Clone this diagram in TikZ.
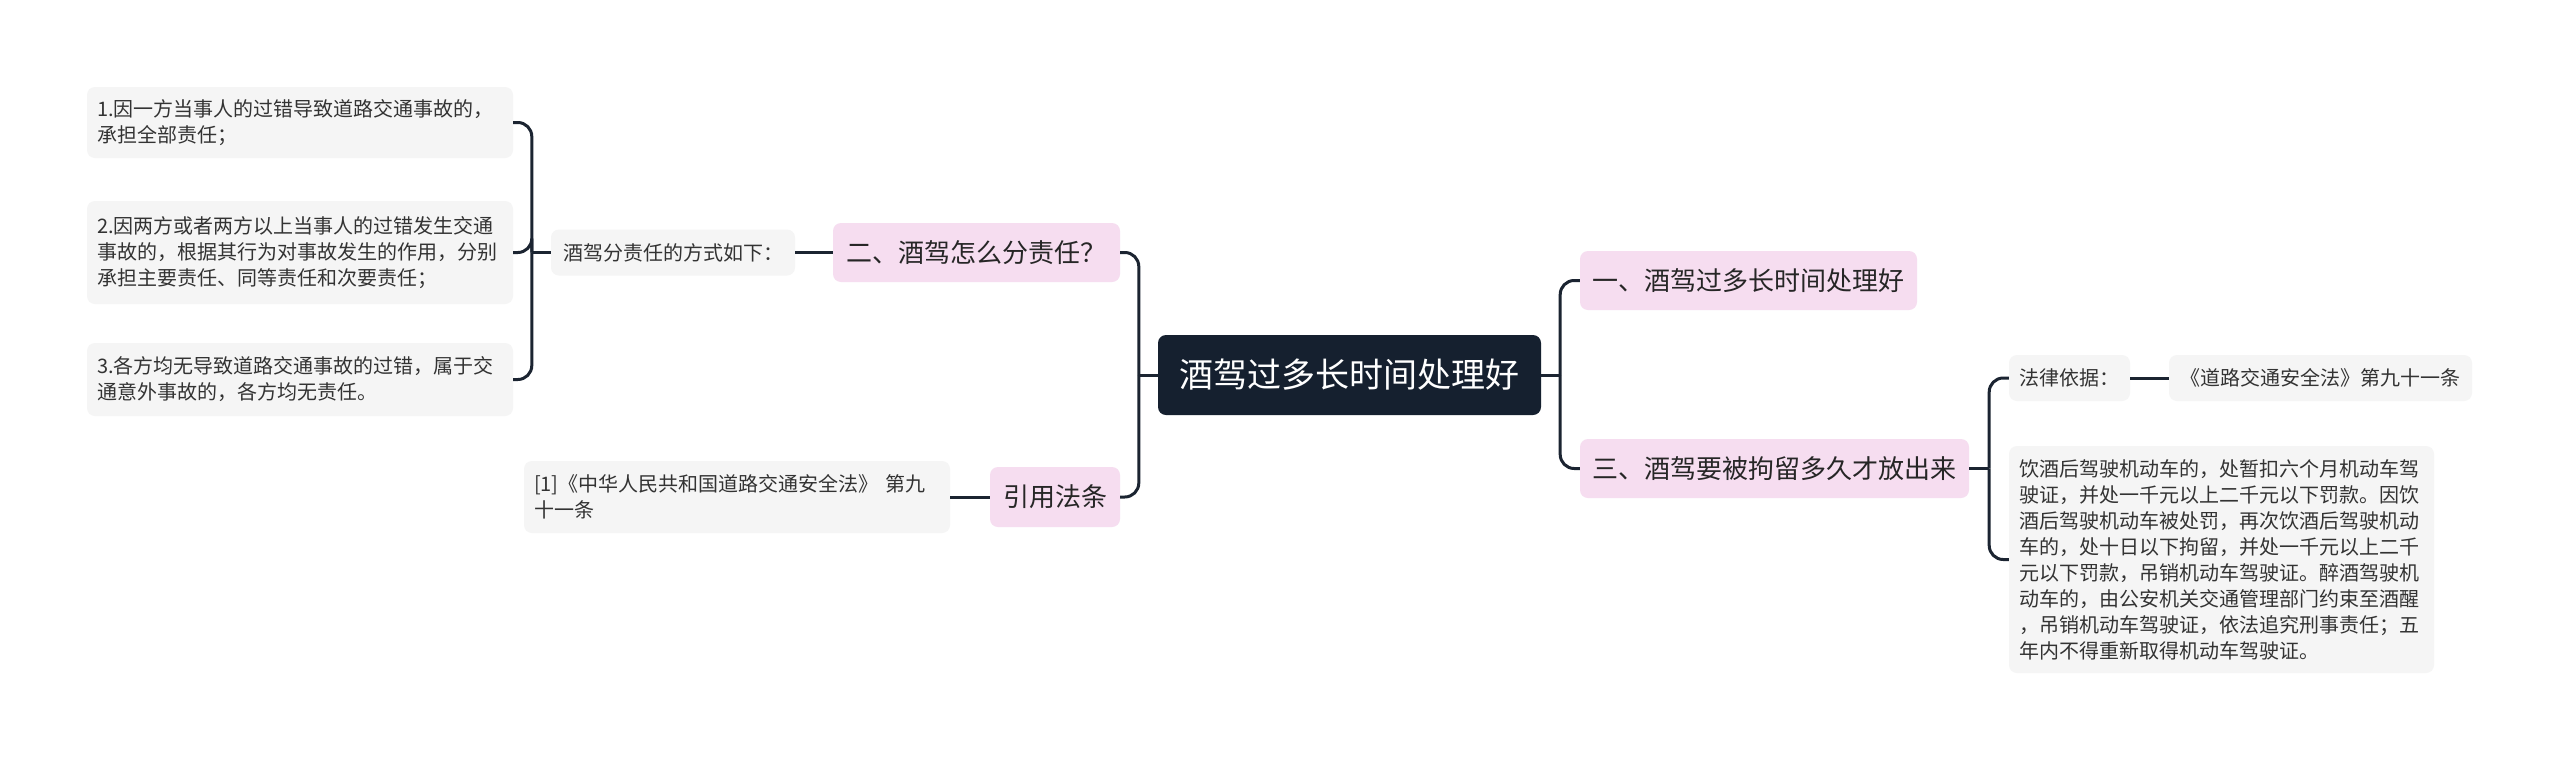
\documentclass[tikz,border=0pt]{standalone}
\usepackage{fontspec}
\setmainfont{Noto Sans CJK SC}
\usetikzlibrary{calc}
\definecolor{conn}{HTML}{1B2431}
\definecolor{pinkbg}{HTML}{F6DDF0}
\definecolor{leafbg}{HTML}{F5F5F5}
\definecolor{rootbg}{HTML}{15202F}
\definecolor{txt}{HTML}{333333}
\definecolor{cattxt}{HTML}{262626}
\begin{document}
\begin{tikzpicture}[x=1pt,y=-1pt,
  box/.style={rounded corners=8pt, inner sep=0pt, align=center},
  rootbox/.style={box, fill=rootbg, text=white, font=\fontsize{34}{40}\selectfont, minimum height=80pt},
  catbox/.style={box, fill=pinkbg, text=cattxt, font=\fontsize{26}{32}\selectfont, minimum height=59pt},
  leafbox/.style={box, fill=leafbg, text=txt, font=\fontsize{20}{26}\selectfont},
  wrapbox/.style={leafbox, align=left, inner xsep=10pt},
  link/.style={draw=conn, line width=3pt},
  elbow/.style={link, rounded corners=14pt}]
\fill[white] (0,0) rectangle (2560,761);
\useasboundingbox (0,0) rectangle (2560,761);

% nodes
\node[rootbox, minimum width=383pt] (root) at (1349.5,375) {酒驾过多长时间处理好};
\node[catbox, minimum width=287pt] (two) at (976.5,252.5) {二、酒驾怎么分责任？};
\node[catbox, minimum width=130pt, minimum height=60pt] (cite) at (1055,497) {引用法条};
\node[catbox, minimum width=337pt] (one) at (1748.5,280.5) {一、酒驾过多长时间处理好};
\node[catbox, minimum width=389pt] (three) at (1774.5,468.5) {三、酒驾要被拘留多久才放出来};

\node[leafbox, minimum width=244pt, minimum height=46pt] (way) at (673,252.5) {酒驾分责任的方式如下：};
\node[wrapbox, text width=406pt, minimum height=71pt] (l1) at (300,122.5)
  {1.因一方当事人的过错导致道路交通事故的，\\承担全部责任；};
\node[wrapbox, text width=406pt, minimum height=103pt] (l2) at (300,252.5)
  {2.因两方或者两方以上当事人的过错发生交通\\事故的，根据其行为对事故发生的作用，分别\\承担主要责任、同等责任和次要责任；};
\node[wrapbox, text width=406pt, minimum height=73pt] (l3) at (300,379.5)
  {3.各方均无导致道路交通事故的过错，属于交\\通意外事故的，各方均无责任。};
\node[wrapbox, text width=406pt, minimum height=72pt] (ref) at (737,497)
  {[1]《中华人民共和国道路交通安全法》 第九\\十一条};

\node[leafbox, minimum width=121pt, minimum height=46pt] (basis) at (2069.5,378) {法律依据：};
\node[leafbox, minimum width=303pt, minimum height=46pt] (law) at (2320.5,378) {《道路交通安全法》第九十一条};
\node[wrapbox, text width=405pt, minimum height=227pt] (detail) at (2221.5,559.5)
  {饮酒后驾驶机动车的，处暂扣六个月机动车驾\\驶证，并处一千元以上二千元以下罚款。因饮\\酒后驾驶机动车被处罚，再次饮酒后驾驶机动\\车的，处十日以下拘留，并处一千元以上二千\\元以下罚款，吊销机动车驾驶证。醉酒驾驶机\\动车的，由公安机关交通管理部门约束至酒醒\\，吊销机动车驾驶证，依法追究刑事责任；五\\年内不得重新取得机动车驾驶证。};

% connectors: left side
\coordinate (jL) at ($(root.west)+(-19,0)$);
\draw[link] (root.west) -- (jL);
\draw[elbow] (jL) |- (two.east);
\draw[elbow] (jL) |- (cite.east);
\draw[link] (two.west) -- (way.east);
\coordinate (jW) at ($(way.west)+(-19,0)$);
\draw[link] (way.west) -- (jW);
\draw[elbow] (jW) |- (l1.east);
\draw[elbow] (jW) |- (l2.east);
\draw[elbow] (jW) |- (l3.east);
\draw[link] (cite.west) -- (ref.east);

% connectors: right side
\coordinate (jR) at ($(root.east)+(19,0)$);
\draw[link] (root.east) -- (jR);
\draw[elbow] (jR) |- (one.west);
\draw[elbow] (jR) |- (three.west);
\coordinate (jT) at ($(three.east)+(20,0)$);
\draw[link] (three.east) -- (jT);
\draw[elbow] (jT) |- (basis.west);
\draw[elbow] (jT) |- (detail.west);
\draw[link] (basis.east) -- (law.west);
\end{tikzpicture}
\end{document}
